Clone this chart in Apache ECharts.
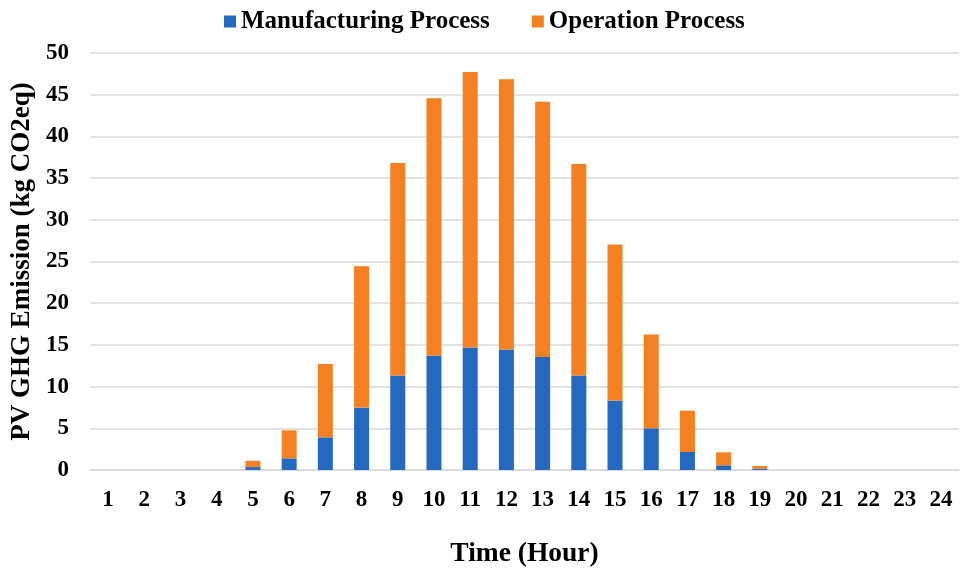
<!DOCTYPE html>
<html>
<head>
<meta charset="utf-8">
<script src="https://cdn.jsdelivr.net/npm/echarts@6/dist/echarts.min.js"></script>
<style>
  html, body { margin: 0; padding: 0; background: #fff; }
  #chart { width: 962px; height: 570px; }
</style>
</head>
<body>
<div id="chart"></div>
<script>
// Hourly PV greenhouse-gas emissions, split by life-cycle stage (kg CO2eq)
const hours = ['1','2','3','4','5','6','7','8','9','10','11','12','13','14','15','16','17','18','19','20','21','22','23','24'];
const manufacturing = [0, 0, 0, 0, 0.35, 1.4, 3.92, 7.48, 11.32, 13.72, 14.68, 14.44, 13.56, 11.32, 8.32, 5.0, 2.16, 0.56, 0.16, 0, 0, 0, 0, 0];
const operation = [0, 0, 0, 0, 0.75, 3.36, 8.8, 16.96, 25.48, 30.84, 33.04, 32.4, 30.6, 25.36, 18.72, 11.24, 4.96, 1.56, 0.32, 0, 0, 0, 0, 0];
const yTicks = [0, 5, 10, 15, 20, 25, 30, 35, 40, 45, 50];

const font = '"Liberation Serif", "Times New Roman", serif';
const chart = echarts.init(document.getElementById('chart'), null, { renderer: 'canvas' });

chart.setOption({
  animation: false,
  backgroundColor: '#ffffff',
  textStyle: { fontFamily: font },
  legend: {
    top: 9,
    left: 224,
    padding: 0,
    itemWidth: 12,
    itemHeight: 12,
    itemGap: 42,
    icon: 'rect',
    textStyle: { fontFamily: font, fontWeight: 'bold', fontSize: 25, color: '#000' },
    data: ['Manufacturing Process', 'Operation Process']
  },
  grid: { left: 90, right: 3, top: 53, bottom: 100, containLabel: false, outerBoundsMode: 'none' },
  xAxis: {
    type: 'category',
    data: hours,
    name: 'Time (Hour)',
    nameLocation: 'middle',
    nameGap: 70,
    nameMoveOverlap: false,
    nameTextStyle: { fontFamily: font, fontWeight: 'bold', fontSize: 27.5, color: '#000' },
    axisLine: { show: true, lineStyle: { color: '#d9d9d9', width: 1.5 } },
    axisTick: { show: false },
    axisLabel: { fontFamily: font, fontWeight: 'bold', fontSize: 23, color: '#000', margin: 19, interval: 0 }
  },
  yAxis: {
    type: 'value',
    min: yTicks[0],
    max: yTicks[yTicks.length - 1],
    interval: 5,
    name: 'PV GHG Emission (kg CO2eq)',
    nameLocation: 'middle',
    nameGap: 54,
    nameMoveOverlap: false,
    nameTextStyle: { fontFamily: font, fontWeight: 'bold', fontSize: 27, color: '#000' },
    axisLine: { show: false },
    axisTick: { show: false },
    axisLabel: { fontFamily: font, fontWeight: 'bold', fontSize: 23, color: '#000', margin: 21 },
    splitLine: { lineStyle: { color: '#d9d9d9', width: 1.5 } }
  },
  series: [
    {
      name: 'Manufacturing Process',
      type: 'bar',
      stack: 'total',
      data: manufacturing,
      barWidth: 15,
      itemStyle: { color: '#2568c0' }
    },
    {
      name: 'Operation Process',
      type: 'bar',
      stack: 'total',
      data: operation,
      barWidth: 15,
      itemStyle: { color: '#f58021' }
    }
  ]
});
</script>
</body>
</html>
